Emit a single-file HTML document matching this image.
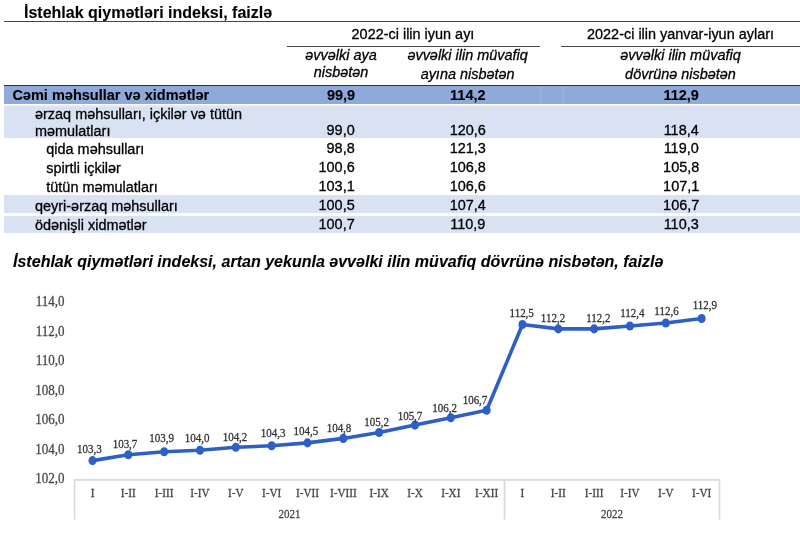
<!DOCTYPE html>
<html lang="az"><head><meta charset="utf-8"><title>İstehlak qiymətləri indeksi</title>
<style>
html,body{margin:0;padding:0;background:#fff}
body{width:800px;height:543px;position:relative;overflow:hidden;font-family:"Liberation Sans",sans-serif;color:#000}
.t,.h{position:absolute;white-space:nowrap;color:#000;-webkit-text-stroke:0.3px #000}
.t{-webkit-text-stroke:0.1px #000}
.h{font:14.45px/17px "Liberation Sans",sans-serif}
.h.i{font-style:italic;line-height:17px}
.h.b{font-weight:bold;font-size:14.52px;-webkit-text-stroke:0.15px #000}
.c{text-align:center}
.r{text-align:right}
.ln{position:absolute;height:1px;background:#444}
.bg{position:absolute;left:4px;width:796px}
</style></head><body>

<div class="t" style="left:24px;top:4.2px;font:bold 16px/18px 'Liberation Sans',sans-serif">İstehlak qiymətləri indeksi, faizlə</div>
<div class="ln" style="left:4px;top:21px;width:796px"></div>
<div class="h c" style="left:286px;width:254px;top:26.3px">2022-ci ilin iyun ayı</div>
<div class="h c" style="left:561px;width:239px;top:26.3px">2022-ci ilin yanvar-iyun ayları</div>
<div class="ln" style="left:287px;top:45.75px;width:253px"></div>
<div class="ln" style="left:561px;top:45.75px;width:239px"></div>
<div class="h c i" style="left:286px;width:110px;top:46.6px">əvvəlki aya<br>nisbətən</div>
<div class="h c i" style="left:392.6px;width:150px;top:45.6px;line-height:19px">əvvəlki ilin müvafiq<br>ayına nisbətən</div>
<div class="h c i" style="left:561px;width:239px;top:45.6px;line-height:19px">əvvəlki ilin müvafiq<br>dövrünə nisbətən</div>
<div class="ln" style="left:4px;top:85px;width:796px;background:#333"></div>
<div class="bg" style="top:86px;height:17.5px;background:#8eaadb"></div>
<div class="bg" style="top:105.4px;height:33.1px;background:linear-gradient(#eef2fa 0,#d9e2f3 2px)"></div>
<div style="position:absolute;left:539px;top:86px;width:4px;height:17.5px;background:linear-gradient(90deg,rgba(255,255,255,0),rgba(255,255,255,.1),rgba(255,255,255,0))"></div>
<div style="position:absolute;left:560.5px;top:86px;width:4px;height:17.5px;background:linear-gradient(90deg,rgba(255,255,255,0),rgba(255,255,255,.1),rgba(255,255,255,0))"></div>
<div class="bg" style="top:195.2px;height:18px;background:#d9e2f3"></div>
<div class="bg" style="top:215.6px;height:17px;background:#d9e2f3"></div>
<div class="h b" style="left:12.4px;top:87px">Cəmi məhsullar və xidmətlər</div>
<div class="h r b" style="left:275.2px;width:80px;top:86.5px">99,9</div>
<div class="h c b" style="left:427.8px;width:80px;top:86.5px">114,2</div>
<div class="h c b" style="left:641.2px;width:80px;top:86.5px">112,9</div>
<div class="h" style="left:35px;top:106px">ərzaq məhsulları, içkilər və tütün</div>
<div class="h" style="left:35px;top:122.75px">məmulatları</div>
<div class="h r" style="left:274.7px;width:80px;top:122.25px">99,0</div>
<div class="h c" style="left:427.8px;width:80px;top:122.25px">120,6</div>
<div class="h c" style="left:641.2px;width:80px;top:122.25px">118,4</div>
<div class="h" style="left:46.3px;top:140.8px">qida məhsulları</div>
<div class="h r" style="left:274.7px;width:80px;top:140.3px">98,8</div>
<div class="h c" style="left:427.8px;width:80px;top:140.3px">121,3</div>
<div class="h c" style="left:641.2px;width:80px;top:140.3px">119,0</div>
<div class="h" style="left:46.3px;top:159.8px">spirtli içkilər</div>
<div class="h r" style="left:274.7px;width:80px;top:159.3px">100,6</div>
<div class="h c" style="left:427.8px;width:80px;top:159.3px">106,8</div>
<div class="h c" style="left:641.2px;width:80px;top:159.3px">105,8</div>
<div class="h" style="left:46.3px;top:178.8px">tütün məmulatları</div>
<div class="h r" style="left:274.7px;width:80px;top:178.3px">103,1</div>
<div class="h c" style="left:427.8px;width:80px;top:178.3px">106,6</div>
<div class="h c" style="left:641.2px;width:80px;top:178.3px">107,1</div>
<div class="h" style="left:35px;top:197.6px">qeyri-ərzaq məhsulları</div>
<div class="h r" style="left:274.7px;width:80px;top:197.1px">100,5</div>
<div class="h c" style="left:427.8px;width:80px;top:197.1px">107,4</div>
<div class="h c" style="left:641.2px;width:80px;top:197.1px">106,7</div>
<div class="h" style="left:35px;top:216.9px">ödənişli xidmətlər</div>
<div class="h r" style="left:274.7px;width:80px;top:216.4px">100,7</div>
<div class="h c" style="left:427.8px;width:80px;top:216.4px">110,9</div>
<div class="h c" style="left:641.2px;width:80px;top:216.4px">110,3</div>
<div class="t" style="left:13px;top:253px;font:italic bold 16px/18px 'Liberation Sans',sans-serif;letter-spacing:0.014px">İstehlak qiymətləri indeksi, artan yekunla əvvəlki ilin müvafiq dövrünə nisbətən, faizlə</div>

<svg width="800" height="543" viewBox="0 0 800 543" style="position:absolute;left:0;top:0"><g stroke="#dadada" stroke-width="1.7" fill="none"><path d="M74.59 519.5V479.9H719.52V519.5M504.54 479.9V519.5"/></g><polyline fill="none" stroke="#2d5fc6" stroke-width="3.6" stroke-linejoin="round" stroke-linecap="round" points="92.50,460.61 128.33,454.69 164.16,451.73 199.99,450.25 235.82,447.29 271.65,445.81 307.48,442.85 343.31,438.41 379.14,432.49 414.97,425.09 450.80,417.69 486.63,410.29 522.46,324.45 558.29,328.89 594.12,328.89 629.95,325.93 665.78,322.97 701.61,318.53"/><g fill="#2d5fc6"><ellipse cx="92.50" cy="460.61" rx="4.05" ry="4.55"/><ellipse cx="128.33" cy="454.69" rx="4.05" ry="4.55"/><ellipse cx="164.16" cy="451.73" rx="4.05" ry="4.55"/><ellipse cx="199.99" cy="450.25" rx="4.05" ry="4.55"/><ellipse cx="235.82" cy="447.29" rx="4.05" ry="4.55"/><ellipse cx="271.65" cy="445.81" rx="4.05" ry="4.55"/><ellipse cx="307.48" cy="442.85" rx="4.05" ry="4.55"/><ellipse cx="343.31" cy="438.41" rx="4.05" ry="4.55"/><ellipse cx="379.14" cy="432.49" rx="4.05" ry="4.55"/><ellipse cx="414.97" cy="425.09" rx="4.05" ry="4.55"/><ellipse cx="450.80" cy="417.69" rx="4.05" ry="4.55"/><ellipse cx="486.63" cy="410.29" rx="4.05" ry="4.55"/><ellipse cx="522.46" cy="324.45" rx="4.05" ry="4.55"/><ellipse cx="558.29" cy="328.89" rx="4.05" ry="4.55"/><ellipse cx="594.12" cy="328.89" rx="4.05" ry="4.55"/><ellipse cx="629.95" cy="325.93" rx="4.05" ry="4.55"/><ellipse cx="665.78" cy="322.97" rx="4.05" ry="4.55"/><ellipse cx="701.61" cy="318.53" rx="4.05" ry="4.55"/></g><g font-family="'Liberation Serif', serif" font-size="13.3" fill="#454545" stroke="#454545" stroke-width="0.25" text-anchor="end"><text transform="translate(64.5 483.40) scale(0.98 1.07)">102,0</text><text transform="translate(64.5 453.90) scale(0.98 1.07)">104,0</text><text transform="translate(64.5 424.40) scale(0.98 1.07)">106,0</text><text transform="translate(64.5 394.90) scale(0.98 1.07)">108,0</text><text transform="translate(64.5 365.40) scale(0.98 1.07)">110,0</text><text transform="translate(64.5 335.90) scale(0.98 1.07)">112,0</text><text transform="translate(64.5 306.40) scale(0.98 1.07)">114,0</text></g><g font-family="'Liberation Serif', serif" font-size="11" fill="#454545" stroke="#454545" stroke-width="0.25" text-anchor="middle"><text transform="translate(92.50 497.2) scale(1.02 1.07)">I</text><text transform="translate(128.33 497.2) scale(1.02 1.07)">I-II</text><text transform="translate(164.16 497.2) scale(1.02 1.07)">I-III</text><text transform="translate(199.99 497.2) scale(1.02 1.07)">I-IV</text><text transform="translate(235.82 497.2) scale(1.02 1.07)">I-V</text><text transform="translate(271.65 497.2) scale(1.02 1.07)">I-VI</text><text transform="translate(307.48 497.2) scale(1.02 1.07)">I-VII</text><text transform="translate(343.31 497.2) scale(1.02 1.07)">I-VIII</text><text transform="translate(379.14 497.2) scale(1.02 1.07)">I-IX</text><text transform="translate(414.97 497.2) scale(1.02 1.07)">I-X</text><text transform="translate(450.80 497.2) scale(1.02 1.07)">I-XI</text><text transform="translate(486.63 497.2) scale(1.02 1.07)">I-XII</text><text transform="translate(522.46 497.2) scale(1.02 1.07)">I</text><text transform="translate(558.29 497.2) scale(1.02 1.07)">I-II</text><text transform="translate(594.12 497.2) scale(1.02 1.07)">I-III</text><text transform="translate(629.95 497.2) scale(1.02 1.07)">I-IV</text><text transform="translate(665.78 497.2) scale(1.02 1.07)">I-V</text><text transform="translate(701.61 497.2) scale(1.02 1.07)">I-VI</text><text transform="translate(289.56 517.6) scale(1.0 1.07)">2021</text><text transform="translate(612.03 517.6) scale(1.0 1.07)">2022</text></g><g font-family="'Liberation Serif', serif" font-size="11" fill="#303030" stroke="#303030" stroke-width="0.25" text-anchor="middle"><text transform="translate(89.4 453.3) scale(1.0 1.07)">103,3</text><text transform="translate(125 447.8) scale(1.0 1.07)">103,7</text><text transform="translate(161.6 442.3) scale(1.0 1.07)">103,9</text><text transform="translate(197.1 441.55) scale(1.0 1.07)">104,0</text><text transform="translate(235 441.05) scale(1.0 1.07)">104,2</text><text transform="translate(273.1 437.3) scale(1.0 1.07)">104,3</text><text transform="translate(305.9 435.3) scale(1.0 1.07)">104,5</text><text transform="translate(339 431.55) scale(1.0 1.07)">104,8</text><text transform="translate(376.6 426.05) scale(1.0 1.07)">105,2</text><text transform="translate(410 420.3) scale(1.0 1.07)">105,7</text><text transform="translate(444.6 411.8) scale(1.0 1.07)">106,2</text><text transform="translate(475 404.1) scale(1.0 1.07)">106,7</text><text transform="translate(521.7 316.6) scale(1.0 1.07)">112,5</text><text transform="translate(553 322.3) scale(1.0 1.07)">112,2</text><text transform="translate(598.4 321.8) scale(1.0 1.07)">112,2</text><text transform="translate(632.3 317.3) scale(1.0 1.07)">112,4</text><text transform="translate(666.5 314.90000000000003) scale(1.0 1.07)">112,6</text><text transform="translate(704.8 309.1) scale(1.0 1.07)">112,9</text></g></svg>
</body></html>
